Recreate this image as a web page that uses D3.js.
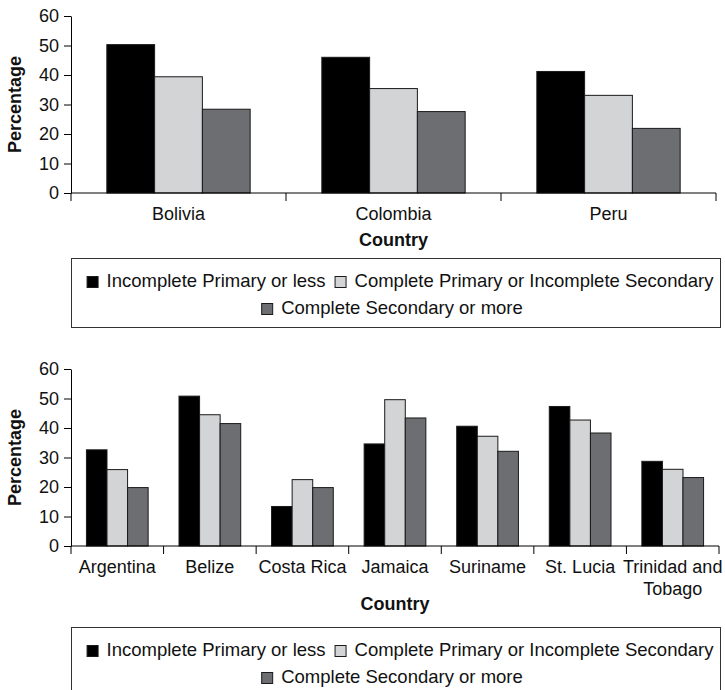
<!DOCTYPE html>
<html><head><meta charset="utf-8">
<script src="https://cdn.jsdelivr.net/npm/d3@7"></script>
<style>
html,body{margin:0;padding:0;background:#fff;}
svg{display:block;font-family:"Liberation Sans",Arial,Helvetica,sans-serif;}
</style></head>
<body>
<svg id="chart" width="725" height="690"></svg>
<script>
// ---- data ----
const seriesNames = ["Incomplete Primary or less", "Complete Primary or Incomplete Secondary", "Complete Secondary or more"];
const seriesColors = ["#000000", "#d3d4d6", "#6d6e71"];
const yTicks = [0, 10, 20, 30, 40, 50, 60];

const topCountries = ["Bolivia", "Colombia", "Peru"];
const topPrimaryLess = [50.3, 46.0, 41.2];
const topPrimaryComplete = [39.4, 35.4, 33.1];
const topSecondaryMore = [28.4, 27.6, 21.9];

const botCountries = ["Argentina", "Belize", "Costa Rica", "Jamaica", "Suriname", "St. Lucia", "Trinidad and Tobago"];
const botPrimaryLess = [32.6, 50.8, 13.4, 34.6, 40.6, 47.3, 28.7];
const botPrimaryComplete = [25.9, 44.5, 22.5, 49.6, 37.2, 42.7, 26.0];
const botSecondaryMore = [19.8, 41.5, 19.8, 43.4, 32.1, 38.3, 23.2];

const svg = d3.select("#chart");

function drawPanel(cfg) {
  const {countries, values, left, right, top, bottom, labelLines, countryY, legendTop} = cfg;
  const g = svg.append("g");
  const x = d3.scaleBand().domain(countries).range([left, right]).padding(0);
  const bw = x.bandwidth();
  const xs = d3.scaleBand().domain(seriesNames).range([bw / 6, bw * 5 / 6]).padding(0);
  const y = d3.scaleLinear().domain([0, 60]).range([bottom, top]);

  // bars
  countries.forEach((c, i) => {
    seriesNames.forEach((s, j) => {
      const v = values[j][i];
      g.append("rect")
        .attr("x", x(c) + xs(s))
        .attr("y", y(v))
        .attr("width", xs.bandwidth())
        .attr("height", y(0) - y(v))
        .attr("fill", seriesColors[j])
        .attr("stroke", "#1a1a1a")
        .attr("stroke-width", 1);
    });
  });

  // y axis
  const ya = g.append("g").attr("transform", `translate(${left},0)`)
    .call(d3.axisLeft(y).tickValues(yTicks).tickFormat(d3.format("d")).tickSize(7).tickSizeOuter(0).tickPadding(5));
  ya.selectAll("text").attr("font-size", 18).attr("fill", "#111").attr("font-family", null);
  ya.selectAll("line,path").attr("stroke", "#000");

  // x axis baseline
  g.append("line").attr("x1", left).attr("x2", right).attr("y1", y(0)).attr("y2", y(0)).attr("stroke", "#000");
  // boundary ticks
  const bounds = countries.map(c => x(c)).concat([right]);
  g.selectAll(".btick").data(bounds).enter().append("line")
    .attr("x1", d => d).attr("x2", d => d).attr("y1", y(0)).attr("y2", y(0) + 8).attr("stroke", "#000");

  // category labels
  countries.forEach(c => {
    const lines = labelLines[c] || [c];
    const t = g.append("text").attr("text-anchor", "middle").attr("font-size", 18).attr("fill", "#111");
    lines.forEach((ln, k) => {
      t.append("tspan").attr("x", x(c) + bw / 2).attr("y", y(0) + 27 + k * 22).text(ln);
    });
  });

  // axis titles
  g.append("text").attr("x", (left + right) / 2).attr("y", countryY).attr("text-anchor", "middle")
    .attr("font-size", 18).attr("font-weight", "bold").attr("fill", "#111").text("Country");
  g.append("text").attr("transform", `translate(21,${(top + bottom) / 2}) rotate(-90)`)
    .attr("text-anchor", "middle").attr("font-size", 18).attr("font-weight", "bold").attr("fill", "#111").text("Percentage");

  // legend
  const lg = g.append("g");
  lg.append("rect").attr("x", 71.5).attr("y", legendTop + 0.5).attr("width", 649).attr("height", 69)
    .attr("fill", "none").attr("stroke", "#333").attr("stroke-width", 1);
  const rows = [[0, 1], [2]];
  const centers = [400, 392];
  rows.forEach((row, r) => {
    const baseY = legendTop + 29 + r * 27;
    const rg = lg.append("g");
    let cur = 0;
    row.forEach((si, k) => {
      if (k > 0) cur += 9;
      rg.append("rect").attr("x", cur + 0.5).attr("y", baseY - 10.5).attr("width", 11).attr("height", 11)
        .attr("fill", seriesColors[si]).attr("stroke", "#1a1a1a").attr("stroke-width", 1);
      cur += 20;
      const t = rg.append("text").attr("x", cur).attr("y", baseY).attr("font-size", 18.5).attr("fill", "#111").text(seriesNames[si]);
      cur += t.node().getComputedTextLength();
    });
    rg.attr("transform", `translate(${centers[r] - cur / 2},0)`);
  });
}

drawPanel({
  countries: topCountries,
  values: [topPrimaryLess, topPrimaryComplete, topSecondaryMore],
  left: 71, right: 716, top: 16, bottom: 193,
  labelLines: {}, countryY: 246, legendTop: 258
});
drawPanel({
  countries: botCountries,
  values: [botPrimaryLess, botPrimaryComplete, botSecondaryMore],
  left: 71, right: 719, top: 369, bottom: 546,
  labelLines: {"Trinidad and Tobago": ["Trinidad and", "Tobago"]}, countryY: 610, legendTop: 627
});
</script>
</body></html>
